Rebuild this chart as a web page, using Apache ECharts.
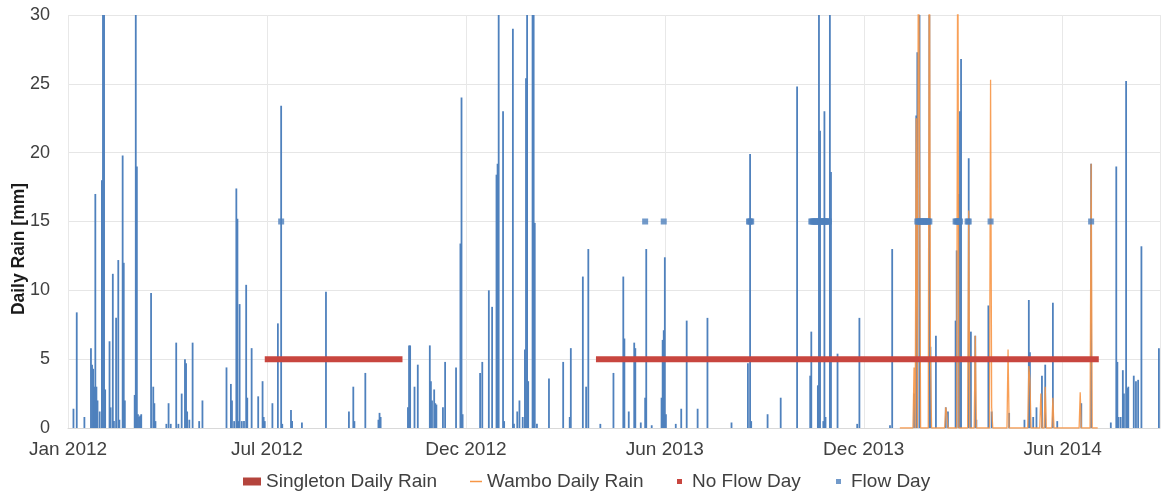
<!DOCTYPE html>
<html>
<head>
<meta charset="utf-8">
<script src="https://cdn.jsdelivr.net/npm/echarts@6/dist/echarts.min.js"></script>
<style>
html,body{margin:0;padding:0;background:#fff;}
#chart{width:1163px;height:493px;}
</style>
</head>
<body>
<div id="chart"></div>
<script>
// x values are days since 1 Jan 2012
var tickLabels = ['Jan 2012', 'Jul 2012', 'Dec 2012', 'Jun 2013', 'Dec 2013', 'Jun 2014'];
var tickStepDays = 182;

// Singleton Daily Rain (mm) - non-zero days
var singletonDay = [
  5, 8, 15, 21, 22, 23, 24, 25, 26, 27, 29, 31, 32, 33, 34, 38, 39, 41, 42, 44, 46, 47, 50, 51, 52,
  61, 62, 63, 64, 65, 66, 67, 76, 78, 79, 80, 90, 92, 94, 99, 101, 104, 107, 108, 109, 111, 114, 120, 123,
  145, 149, 150, 152, 154, 155, 156, 157, 159, 161, 163, 164, 168, 174, 178, 179, 180, 187, 192, 195, 196,
  204, 205, 214, 236, 257, 261, 262, 272, 284, 285, 286,
  311, 312, 313, 317, 320, 331, 332, 333, 335, 336, 337, 343, 345, 355, 359, 360, 361, 377, 379, 385, 388,
  392, 393, 394, 398, 399, 407, 408, 411, 413, 416, 418, 419, 420, 421, 425, 426, 427, 429, 440, 453, 459,
  460, 471, 474, 476, 487, 499,
  508, 509, 513, 518, 519, 524, 528, 529, 534, 543, 544, 545, 546, 547, 556, 561, 566, 576, 585, 607, 622,
  624, 625, 640, 652, 667, 679, 680, 686, 687, 688, 691, 692, 693, 697, 698, 704, 722, 724, 752, 754,
  774, 776, 777, 779, 788, 789, 794, 803, 805, 812, 813, 815, 816, 817, 824, 826, 830, 831, 842, 845, 861,
  875, 879, 880, 883, 886, 891, 894, 901, 905, 927, 936, 954, 959, 960, 961, 963, 965, 966, 968, 969, 970,
  975, 977, 979, 982, 998
];
var singletonMm = [
  1.4, 8.4, 0.8, 5.8, 4.6, 4.3, 3, 17, 3, 2, 1.2, 18, 40, 40, 2.8, 6.3, 1.5, 11.2, 0.5, 8, 12.2, 0.6, 19.8, 12, 2,
  2.4, 40, 19, 1, 0.8, 0.9, 1, 9.8, 3, 1.8, 0.5, 0.3, 1.8, 0.3, 6.2, 0.3, 2.5, 5, 4.7, 1.2, 0.6, 6.2, 0.5, 2,
  4.4, 3.2, 2, 0.5, 17.4, 15.2, 0.5, 9, 0.5, 0.5, 10.4, 2.2, 5.8, 2.3, 3.4, 0.8, 0.5, 1.8, 7.6, 23.4, 0.3,
  1.3, 0.5, 0.4, 9.9, 1.2, 3, 0.5, 4, 0.6, 1.1, 0.8,
  1.5, 6, 6, 3, 4.6, 6, 3.4, 2, 2.8, 1.8, 1.7, 1.5, 4.8, 4.4, 13.4, 24, 1, 4, 4.8, 10, 8.8,
  18.4, 19.2, 40, 23, 0.5, 29, 0.3, 1.2, 2, 0.8, 5.7, 25.4, 40, 3.4, 40, 40, 14.9, 0.3, 3.6, 4.8, 0.8,
  5.8, 11, 3, 13, 0.3, 4,
  11, 6.5, 1.2, 6.2, 5.8, 0.4, 2.2, 13, 0.2, 2.2, 6.4, 7.1, 12.4, 1, 0.3, 1.4, 7.8, 1.4, 8, 0.4, 4.7,
  19.9, 0.5, 1, 2.2, 24.8, 3.8, 7, 3.1, 40, 21.6, 0.5, 23, 0.8, 40, 18.6, 5.4, 0.3, 8, 0.2, 13,
  2.5, 22.7, 27.3, 40, 40, 5.9, 6.7, 1.5, 1.2, 7.8, 12.9, 17, 23, 26.8, 19.6, 7, 6.7, 0.6, 8.9, 1.2, 1.1,
  0.6, 9.3, 5.5, 0.8, 1.5, 3.8, 4.6, 9.1, 0.5, 1.8, 19.2, 0.4, 19, 4.8, 0.8, 0.8, 4.2, 2.5, 25.2, 2.9, 3,
  3.8, 3.4, 3.5, 13.2, 5.8
];

// Wambo Daily Rain (mm)
var wamboDay = [761, 773, 774, 775, 776, 777, 778, 779, 780, 787, 788, 789, 790, 802, 803, 804, 805, 813, 814, 815,
  823, 824, 825, 829, 830, 831, 843, 844, 845, 846, 859, 860, 861, 878, 879, 880, 881, 889, 890, 891,
  893, 894, 895, 900, 901, 902, 925, 926, 927, 935, 936, 937, 942];
var wamboMm = [0, 0, 4.4, 0, 22.5, 0, 40, 40, 0, 0, 40, 5.5, 0, 0, 1.5, 1.0, 0, 0, 40, 0,
  0, 15.8, 0, 0, 6.7, 0, 0, 25.3, 1.5, 0, 0, 5.7, 0, 0, 4.5, 3.5, 0, 0, 2.5, 0,
  0, 3, 0, 0, 2.2, 0, 0, 2.6, 0, 0, 19.2, 0, 0];

// No Flow Day periods (shown at 5 mm)
var noFlowStart = [180, 483];
var noFlowEnd = [306, 943];
var noFlowLevel = 5;

// Flow Days (shown at 15 mm)
var flowDay = [195, 528, 545, 623, 624, 625,
  680, 681, 682, 683, 684, 685, 686, 687, 688, 689, 690, 691, 692, 693, 694, 695, 696,
  777, 778, 779, 780, 781, 782, 783, 784, 785, 786, 787, 788,
  812, 813, 814, 815, 816, 823, 824, 844, 936];
var flowLevel = 15;

var BLUE = '#4F81BD', ORANGE = '#F79646', RED = '#C8463F';
var FONT = 'Liberation Sans, Arial, sans-serif';

var singletonData = singletonDay.map(function (d, i) { return [d, singletonMm[i]]; });
var wamboData = wamboDay.map(function (d, i) { return [d, wamboMm[i]]; });
var flowData = flowDay.map(function (d) { return [d, flowLevel]; });

var series = [
  { name: 'Singleton Daily Rain', type: 'bar', data: singletonData, barWidth: 1.8, clip: true,
    itemStyle: { color: BLUE }, z: 2, animation: false },
  { name: 'Wambo Daily Rain', type: 'line', data: wamboData, showSymbol: false, symbol: 'none', clip: true,
    lineStyle: { color: ORANGE, width: 1.3, opacity: 0.9 }, itemStyle: { color: ORANGE }, z: 3, animation: false }
];
noFlowStart.forEach(function (s, i) {
  series.push({ name: 'No Flow Day', type: 'line', data: [[s, noFlowLevel], [noFlowEnd[i], noFlowLevel]],
    symbol: 'none', lineStyle: { color: RED, width: 6 }, itemStyle: { color: RED }, z: 4, animation: false });
});
series.push({ name: 'Flow Day', type: 'scatter', data: flowData, symbol: 'rect', symbolSize: 6,
  itemStyle: { color: BLUE }, z: 5, animation: false });

var legendText = { fontSize: 19, color: '#404040', fontFamily: FONT };
var chart = echarts.init(document.getElementById('chart'));
chart.setOption({
  backgroundColor: '#fff',
  animation: false,
  grid: { left: 68, right: 3, top: 15, bottom: 65 },
  xAxis: {
    type: 'value', min: 0, max: 999, interval: tickStepDays,
    axisLine: { show: true, lineStyle: { color: '#d9d9d9' } },
    axisTick: { show: false },
    splitLine: { show: true, lineStyle: { color: '#e8e8e8' } },
    axisLabel: {
      showMaxLabel: false, margin: 12, fontSize: 19, color: '#404040', fontFamily: FONT,
      formatter: function (v) { var k = Math.round(v / tickStepDays); return (v % tickStepDays === 0 && tickLabels[k]) ? tickLabels[k] : ''; }
    }
  },
  yAxis: {
    type: 'value', min: 0, max: 30, interval: 5,
    axisLine: { show: false }, axisTick: { show: false },
    splitLine: { show: true, lineStyle: { color: '#e6e6e6' } },
    axisLabel: { margin: 18, fontSize: 18, color: '#404040', fontFamily: FONT }
  },
  legend: [
    { data: [{ name: 'Singleton Daily Rain', icon: 'rect', itemStyle: { color: '#B4443C' } }],
      left: 243, top: 472, padding: 0, itemWidth: 18, itemHeight: 8, selectedMode: false, textStyle: legendText },
    { data: [{ name: 'Wambo Daily Rain', icon: 'rect', itemStyle: { color: ORANGE } }],
      left: 470, top: 472, padding: 0, itemWidth: 12, itemHeight: 1.5, selectedMode: false, textStyle: legendText },
    { data: [{ name: 'No Flow Day', icon: 'rect', itemStyle: { color: RED } }],
      left: 677, top: 472, padding: 0, itemWidth: 5, itemHeight: 5, selectedMode: false,
      textStyle: Object.assign({ padding: [0, 0, 0, 5] }, legendText) },
    { data: [{ name: 'Flow Day', icon: 'rect', itemStyle: { color: BLUE } }],
      left: 836, top: 472, padding: 0, itemWidth: 5, itemHeight: 5, selectedMode: false,
      textStyle: Object.assign({ padding: [0, 0, 0, 5] }, legendText) }
  ],
  graphic: [{
    type: 'text', x: 19, y: 249, rotation: Math.PI / 2,
    style: { text: 'Daily Rain [mm]', fill: '#1a1a1a', font: 'bold 17.5px ' + FONT, textAlign: 'center', textVerticalAlign: 'middle' }
  }],
  series: series
});
</script>
</body>
</html>
